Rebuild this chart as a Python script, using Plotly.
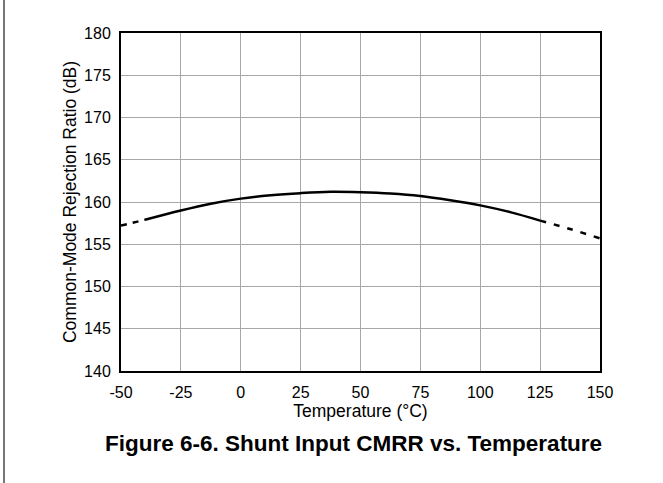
import plotly.graph_objects as go

# Data
temp_c = [-50, -40, -25, -12.5, 0, 12.5, 25, 37.5, 50, 62.5, 75, 87.5, 100, 112.5, 125, 137.5, 150]
cmrr_db = [157.2, 157.9, 159.0, 159.8, 160.4, 160.8, 161.05, 161.2, 161.15, 161.0, 160.7, 160.2, 159.6, 158.8, 157.8, 156.8, 155.7]

x_ticks = [-50, -25, 0, 25, 50, 75, 100, 125, 150]
y_ticks = [140, 145, 150, 155, 160, 165, 170, 175, 180]

solid_lo, solid_hi = -40, 125

def segment(lo, hi):
    xs, ys = [], []
    for t, v in zip(temp_c, cmrr_db):
        if lo <= t <= hi:
            xs.append(t)
            ys.append(v)
    return xs, ys

fig = go.Figure()
for lo, hi, dash in [(-50, solid_lo, "6px,6px"), (solid_lo, solid_hi, "solid"), (solid_hi, 150, "6px,8px")]:
    xs, ys = segment(lo, hi)
    fig.add_trace(go.Scatter(x=xs, y=ys, mode="lines", line=dict(color="black", width=2.5, dash=dash, shape="spline"),
                             showlegend=False, hoverinfo="skip"))

L, R, T, B = 121, 663 - 600, 33, 483 - 371
W = 663 - L - R
H = 483 - T - B

FONT = "Liberation Sans, Arial, sans-serif"

fig.update_layout(
    width=663, height=483,
    margin=dict(l=L, r=R, t=T, b=B),
    paper_bgcolor="white", plot_bgcolor="white",
    font=dict(family=FONT, size=16, color="black"),
    xaxis=dict(range=[-50, 150], tickvals=x_ticks, ticktext=[str(v) for v in x_ticks],
               showgrid=True, gridcolor="#a8a8a8", gridwidth=1, zeroline=False,
               showline=True, linecolor="black", linewidth=2, mirror=True,
               ticks="outside", ticklen=6, tickcolor="rgba(0,0,0,0)", tickfont=dict(size=16),
               title=dict(text="Temperature (°C)", standoff=3, font=dict(size=17.5))),
    yaxis=dict(range=[140, 180], tickvals=y_ticks, ticktext=[str(v) for v in y_ticks],
               showgrid=True, gridcolor="#a8a8a8", gridwidth=1, zeroline=False,
               showline=True, linecolor="black", linewidth=2, mirror=True,
               ticks="outside", ticklen=5, tickcolor="rgba(0,0,0,0)", tickfont=dict(size=16),
               title=dict(text="Common-Mode Rejection Ratio (dB)", standoff=3, font=dict(size=17.5))),
)

# Page border line at left
fig.add_shape(type="line", xref="paper", yref="paper",
              x0=(4 - L) / W, x1=(4 - L) / W, y0=(371 - 483) / H, y1=(371 - 0) / H,
              line=dict(color="#777777", width=2))

fig.add_annotation(text="<b>Figure 6-6. Shunt Input CMRR vs. Temperature</b>", xref="paper", yref="paper",
                   x=(353 - L) / W, y=(371 - 444) / H, showarrow=False, xanchor="center", yanchor="middle",
                   font=dict(size=22.5, color="black", family=FONT))

fig.write_html("out.html")
